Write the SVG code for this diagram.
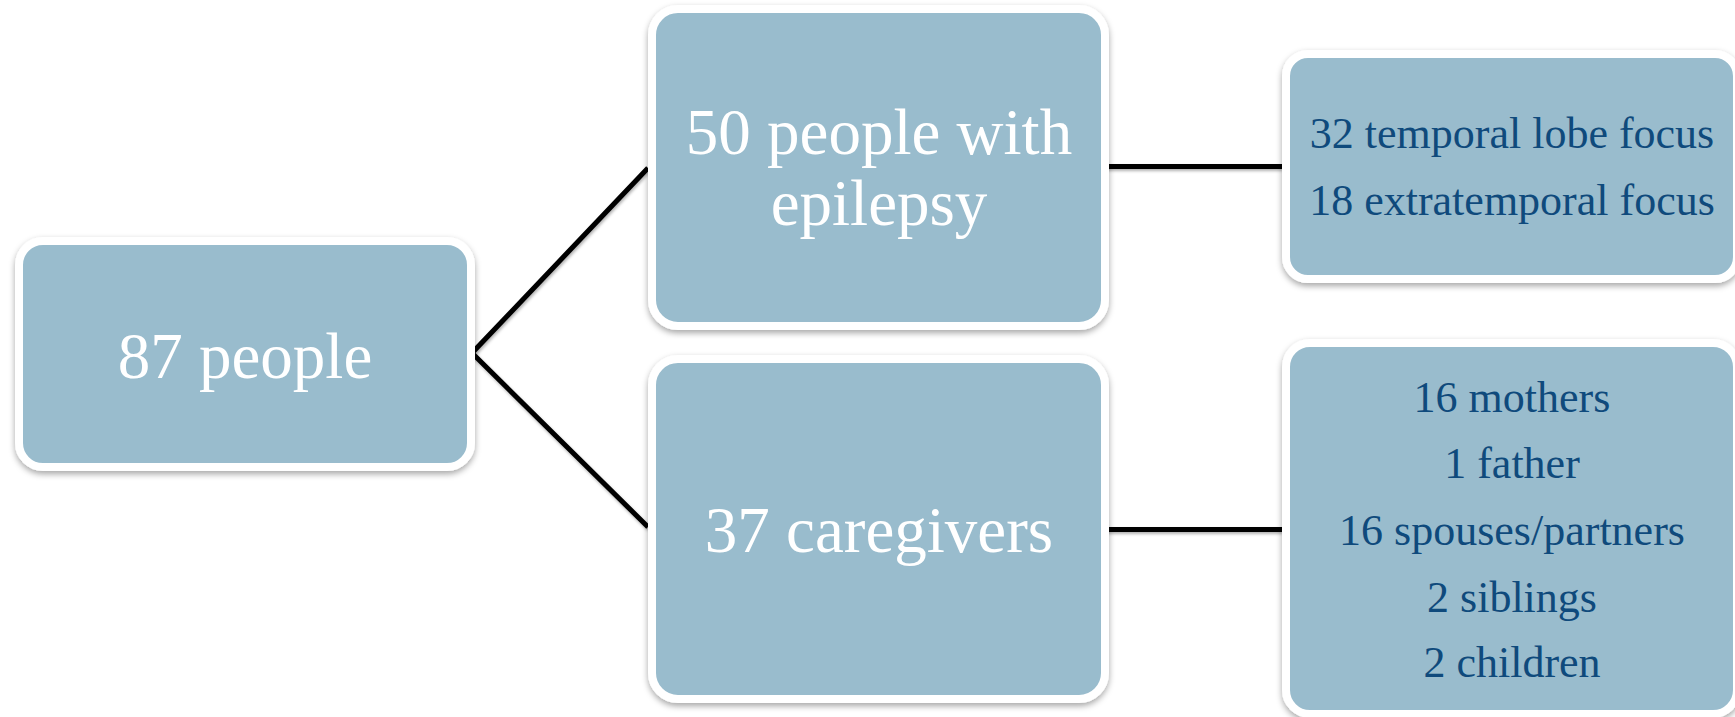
<svg xmlns="http://www.w3.org/2000/svg" width="1735" height="717" viewBox="0 0 1735 717">
  <defs>
    <filter id="sh" x="-5%" y="-5%" width="110%" height="115%">
      <feDropShadow dx="0" dy="3" stdDeviation="3" flood-color="#000" flood-opacity="0.35"/>
    </filter>
    <filter id="lsh" filterUnits="userSpaceOnUse" x="0" y="0" width="1735" height="717">
      <feDropShadow dx="1" dy="2" stdDeviation="1.5" flood-color="#000" flood-opacity="0.3"/>
    </filter>
  </defs>
  <style>
    .box { fill: #99bccd; stroke: #ffffff; stroke-width: 8; filter: url(#sh); }
    .big { font-family: "Liberation Serif", "Times New Roman", serif; font-size: 65px; fill: #ffffff; text-anchor: middle; }
    .small { font-family: "Liberation Serif", "Times New Roman", serif; font-size: 44px; fill: #0f4a7c; text-anchor: middle; }
    .conn { stroke: #000000; stroke-width: 5; fill: none; filter: url(#lsh); }
  </style>
  <rect width="1735" height="717" fill="#ffffff"/>
  <g id="connectors">
    <polyline class="conn" points="648,168 472,353 648,527"/>
    <line class="conn" x1="1105" y1="166.5" x2="1282" y2="166.5"/>
    <line class="conn" x1="1105" y1="529.5" x2="1282" y2="529.5"/>
  </g>
  <g id="n87">
    <rect class="box" x="19" y="241" width="452" height="226" rx="24"/>
    <text class="big" x="245" y="378">87 people</text>
  </g>
  <g id="n50">
    <rect class="box" x="652" y="9" width="453" height="317" rx="26"/>
    <text class="big" x="879" y="154">50 people with</text>
    <text class="big" x="879" y="225">epilepsy</text>
  </g>
  <g id="n37">
    <rect class="box" x="652" y="359" width="453" height="340" rx="26"/>
    <text class="big" x="879" y="552">37 caregivers</text>
  </g>
  <g id="nfocus">
    <rect class="box" x="1286" y="54" width="451" height="225" rx="22"/>
    <text class="small" x="1512" y="148">32 temporal lobe focus</text>
    <text class="small" x="1512" y="215">18 extratemporal focus</text>
  </g>
  <g id="ncare">
    <rect class="box" x="1286" y="343" width="451" height="371" rx="24"/>
    <text class="small" x="1512" y="412">16 mothers</text>
    <text class="small" x="1512" y="478">1 father</text>
    <text class="small" x="1512" y="545">16 spouses/partners</text>
    <text class="small" x="1512" y="612">2 siblings</text>
    <text class="small" x="1512" y="677">2 children</text>
  </g>
</svg>
